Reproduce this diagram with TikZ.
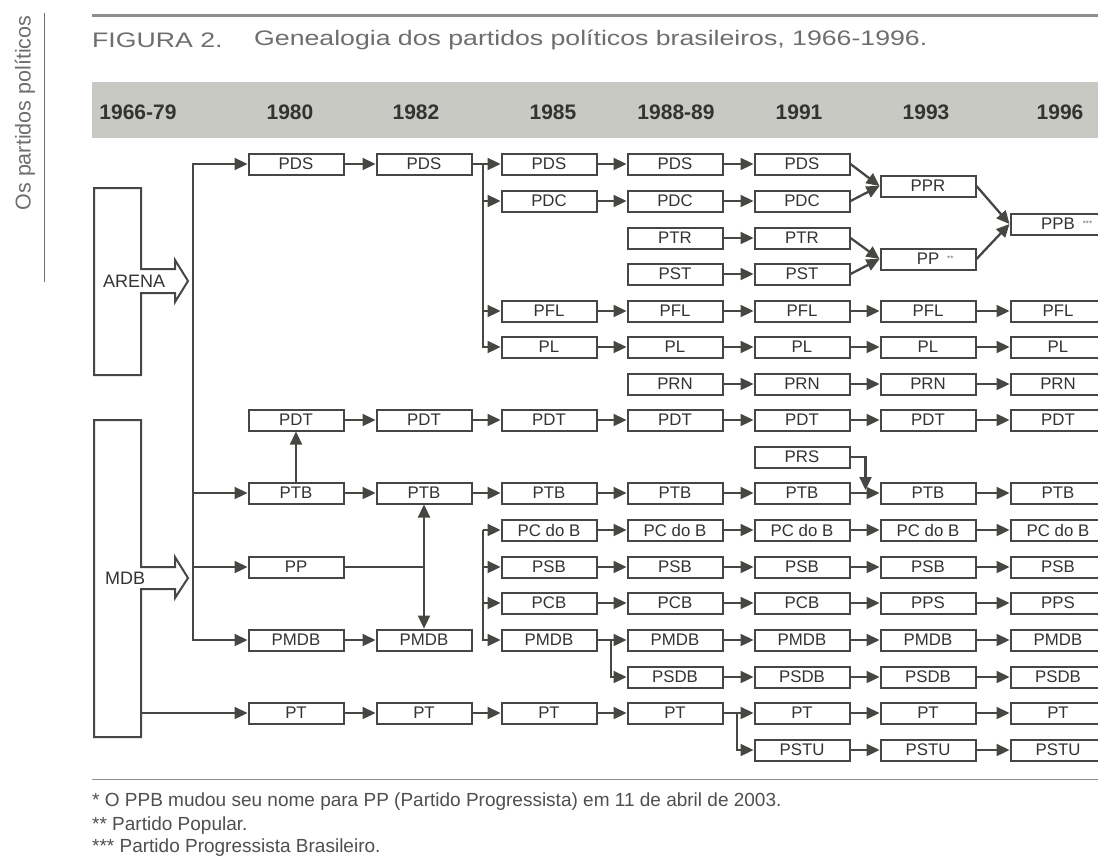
\documentclass[tikz,border=0pt]{standalone}
\usepackage{fontspec}
\setmainfont{Liberation Sans}
\newfontfamily\widefont[FakeStretch=1.27]{Liberation Sans}
\usetikzlibrary{arrows.meta,calc}
\definecolor{linegray}{HTML}{464643}
\definecolor{textgray}{HTML}{333333}
\definecolor{bandgray}{HTML}{C9C9C4}
\definecolor{titlegray}{HTML}{6E6E6E}
\definecolor{rulegray}{HTML}{8E8E8C}
\definecolor{notegray}{HTML}{4F4F4F}
\begin{document}
\begin{tikzpicture}[
    x=1pt, y=-1pt,
    party/.style={
        draw=linegray,
        line width=2pt,
        fill=white,
        minimum width=95pt,
        minimum height=21pt,
        inner sep=0pt,
        text=textgray,
        font=\fontsize{16.8}{18}\selectfont},
    arr/.style={draw=linegray, line width=2.3pt, -{Triangle[length=13pt,width=12pt]}},
    twoway/.style={draw=linegray, line width=2.3pt, {Triangle[length=13pt,width=12pt]}-{Triangle[length=13pt,width=12pt]}},
    link/.style={draw=linegray, line width=2.3pt},
    origin/.style={anchor=west, inner sep=0pt, text=textgray, font=\fontsize{18}{20}\selectfont},
    year/.style={text=textgray, inner sep=0pt, font=\fontsize{21}{24}\selectfont\bfseries},
    note/.style={anchor=west, inner sep=0pt, text=notegray, font=\fontsize{19}{22}\selectfont}]
    \clip (0,0) rectangle (1098,857);
    \fill[white] (0,0) rectangle (1098,857);

    \node[rotate=90, inner sep=0pt, text=titlegray, font=\fontsize{21.5}{24}\selectfont] (side) at (25,113) {Os partidos políticos};
    \draw[titlegray, line width=0.8pt] (44,13) -- (44,282);

    \draw[rulegray, line width=3pt] (92,15) -- (1098,15);
    \node[anchor=west, inner sep=0pt, text=titlegray, font=\widefont\fontsize{21}{24}\selectfont] (fig) at (92,40) {FIGURA 2.};
    \node[anchor=west, inner sep=0pt, text=titlegray, font=\widefont\fontsize{21}{24}\selectfont] (title) at (254,40) {Genealogia dos partidos políticos brasileiros, 1966-1996.};

    \fill[bandgray] (92,82) rectangle (1098,138);
    \node[year] (y66) at (138,112) {1966-79};
    \node[year] (y80) at (290,112) {1980};
    \node[year] (y82) at (416,112) {1982};
    \node[year] (y85) at (553,112) {1985};
    \node[year] (y88) at (676,112) {1988-89};
    \node[year] (y91) at (799,112) {1991};
    \node[year] (y93) at (926,112) {1993};
    \node[year] (y96) at (1060,112) {1996};

    \draw[linegray, line width=2pt] (94,188) -- (141,188) -- (141,269) -- (175,269) -- (175,260) -- (188,281) -- (175,302) -- (175,293) -- (141,293) -- (141,375) -- (94,375) -- cycle;
    \node[origin] (arena) at (103,281) {ARENA};
    \draw[linegray, line width=2pt] (94,420) -- (141,420) -- (141,567) -- (175,567) -- (175,557) -- (188,578) -- (175,598) -- (175,589) -- (141,589) -- (141,737) -- (94,737) -- cycle;
    \node[origin] (mdb) at (105,578) {MDB};

    \coordinate (trunk) at (193,0);
    \coordinate (mdbside) at (141,0);
    \coordinate (fork85) at (483,0);
    \coordinate (fork88) at (611,0);
    \coordinate (fork91) at (737,0);

    \node[party] (pds80) at (296,164) {PDS};
    \node[party] (pdt80) at (296,420) {PDT};
    \node[party] (ptb80) at (296,493) {PTB};
    \node[party] (pp80) at (296,567) {PP};
    \node[party] (pmdb80) at (296,640) {PMDB};
    \node[party] (pt80) at (296,713) {PT};

    \node[party] (pds82) at (424,164) {PDS};
    \node[party] (pdt82) at (424,420) {PDT};
    \node[party] (ptb82) at (424,493) {PTB};
    \node[party] (pmdb82) at (424,640) {PMDB};
    \node[party] (pt82) at (424,713) {PT};

    \node[party] (pds85) at (549,164) {PDS};
    \node[party] (pdc85) at (549,201) {PDC};
    \node[party] (pfl85) at (549,311) {PFL};
    \node[party] (pl85) at (549,347) {PL};
    \node[party] (pdt85) at (549,420) {PDT};
    \node[party] (ptb85) at (549,493) {PTB};
    \node[party] (pcdob85) at (549,530) {PC do B};
    \node[party] (psb85) at (549,567) {PSB};
    \node[party] (pcb85) at (549,603) {PCB};
    \node[party] (pmdb85) at (549,640) {PMDB};
    \node[party] (pt85) at (549,713) {PT};

    \node[party] (pds88) at (675,164) {PDS};
    \node[party] (pdc88) at (675,201) {PDC};
    \node[party] (ptr88) at (675,238) {PTR};
    \node[party] (pst88) at (675,274) {PST};
    \node[party] (pfl88) at (675,311) {PFL};
    \node[party] (pl88) at (675,347) {PL};
    \node[party] (prn88) at (675,384) {PRN};
    \node[party] (pdt88) at (675,420) {PDT};
    \node[party] (ptb88) at (675,493) {PTB};
    \node[party] (pcdob88) at (675,530) {PC do B};
    \node[party] (psb88) at (675,567) {PSB};
    \node[party] (pcb88) at (675,603) {PCB};
    \node[party] (pmdb88) at (675,640) {PMDB};
    \node[party] (psdb88) at (675,677) {PSDB};
    \node[party] (pt88) at (675,713) {PT};

    \node[party] (pds91) at (802,164) {PDS};
    \node[party] (pdc91) at (802,201) {PDC};
    \node[party] (ptr91) at (802,238) {PTR};
    \node[party] (pst91) at (802,274) {PST};
    \node[party] (pfl91) at (802,311) {PFL};
    \node[party] (pl91) at (802,347) {PL};
    \node[party] (prn91) at (802,384) {PRN};
    \node[party] (pdt91) at (802,420) {PDT};
    \node[party] (prs91) at (802,457) {PRS};
    \node[party] (ptb91) at (802,493) {PTB};
    \node[party] (pcdob91) at (802,530) {PC do B};
    \node[party] (psb91) at (802,567) {PSB};
    \node[party] (pcb91) at (802,603) {PCB};
    \node[party] (pmdb91) at (802,640) {PMDB};
    \node[party] (psdb91) at (802,677) {PSDB};
    \node[party] (pt91) at (802,713) {PT};
    \node[party] (pstu91) at (802,750) {PSTU};

    \node[party] (ppr93) at (928,186) {PPR};
    \node[party] (pp93) at (928,259) {PP\rlap{\hspace{8pt}\raisebox{3pt}{\fontsize{8}{8}\selectfont\color{titlegray}**}}};
    \node[party] (pfl93) at (928,311) {PFL};
    \node[party] (pl93) at (928,347) {PL};
    \node[party] (prn93) at (928,384) {PRN};
    \node[party] (pdt93) at (928,420) {PDT};
    \node[party] (ptb93) at (928,493) {PTB};
    \node[party] (pcdob93) at (928,530) {PC do B};
    \node[party] (psb93) at (928,567) {PSB};
    \node[party] (pps93) at (928,603) {PPS};
    \node[party] (pmdb93) at (928,640) {PMDB};
    \node[party] (psdb93) at (928,677) {PSDB};
    \node[party] (pt93) at (928,713) {PT};
    \node[party] (pstu93) at (928,750) {PSTU};

    \node[party] (ppb96) at (1058,224) {PPB\rlap{\hspace{8pt}\raisebox{3pt}{\fontsize{8}{8}\selectfont\color{titlegray}***}}};
    \node[party] (pfl96) at (1058,311) {PFL};
    \node[party] (pl96) at (1058,347) {PL};
    \node[party] (prn96) at (1058,384) {PRN};
    \node[party] (pdt96) at (1058,420) {PDT};
    \node[party] (ptb96) at (1058,493) {PTB};
    \node[party] (pcdob96) at (1058,530) {PC do B};
    \node[party] (psb96) at (1058,567) {PSB};
    \node[party] (pps96) at (1058,603) {PPS};
    \node[party] (pmdb96) at (1058,640) {PMDB};
    \node[party] (psdb96) at (1058,677) {PSDB};
    \node[party] (pt96) at (1058,713) {PT};
    \node[party] (pstu96) at (1058,750) {PSTU};

    \draw[arr] (trunk |- pmdb80) |- (pds80);
    \draw[arr] (trunk |- pds80) |- (pmdb80);
    \draw[arr] (trunk |- ptb80) -- (ptb80);
    \draw[arr] (trunk |- pp80) -- (pp80);
    \draw[arr] (mdbside |- pt80) -- (pt80);
    \draw[arr] (ptb80) -- (pdt80);

    \draw[arr] (pds80) -- (pds82);
    \draw[arr] (pdt80) -- (pdt82);
    \draw[arr] (ptb80) -- (ptb82);
    \draw[arr] (pmdb80) -- (pmdb82);
    \draw[arr] (pt80) -- (pt82);
    \draw[link] (pp80) -- (ptb82 |- pp80);
    \draw[twoway] (ptb82) -- (pmdb82);

    \draw[arr] (pds82) -- (pds85);
    \draw[arr] (fork85 |- pds85) |- (pl85);
    \draw[arr] (fork85 |- pdc85) -- (pdc85);
    \draw[arr] (fork85 |- pfl85) -- (pfl85);
    \draw[arr] (pdt82) -- (pdt85);
    \draw[arr] (ptb82) -- (ptb85);
    \draw[arr] (fork85 |- pcdob85) -- (pcdob85);
    \draw[arr] (fork85 |- pcdob85) |- (pmdb85);
    \draw[arr] (fork85 |- psb85) -- (psb85);
    \draw[arr] (fork85 |- pcb85) -- (pcb85);
    \draw[arr] (pt82) -- (pt85);

    \draw[arr] (pds85) -- (pds88);
    \draw[arr] (pdc85) -- (pdc88);
    \draw[arr] (pfl85) -- (pfl88);
    \draw[arr] (pl85) -- (pl88);
    \draw[arr] (pdt85) -- (pdt88);
    \draw[arr] (ptb85) -- (ptb88);
    \draw[arr] (pcdob85) -- (pcdob88);
    \draw[arr] (psb85) -- (psb88);
    \draw[arr] (pcb85) -- (pcb88);
    \draw[arr] (pmdb85) -- (pmdb88);
    \draw[arr] (fork88 |- pmdb88) |- (psdb88);
    \draw[arr] (pt85) -- (pt88);

    \draw[arr] (pds88) -- (pds91);
    \draw[arr] (pdc88) -- (pdc91);
    \draw[arr] (ptr88) -- (ptr91);
    \draw[arr] (pst88) -- (pst91);
    \draw[arr] (pfl88) -- (pfl91);
    \draw[arr] (pl88) -- (pl91);
    \draw[arr] (prn88) -- (prn91);
    \draw[arr] (pdt88) -- (pdt91);
    \draw[arr] (ptb88) -- (ptb91);
    \draw[arr] (pcdob88) -- (pcdob91);
    \draw[arr] (psb88) -- (psb91);
    \draw[arr] (pcb88) -- (pcb91);
    \draw[arr] (pmdb88) -- (pmdb91);
    \draw[arr] (psdb88) -- (psdb91);
    \draw[arr] (pt88) -- (pt91);
    \draw[arr] (fork91 |- pt88) |- (pstu91);

    \draw[arr] (pds91.east) -- (ppr93.west);
    \draw[arr] (pdc91.east) -- (ppr93.west);
    \draw[arr] (ptr91.east) -- (pp93.west);
    \draw[arr] (pst91.east) -- (pp93.west);
    \draw[arr] (pfl91) -- (pfl93);
    \draw[arr] (pl91) -- (pl93);
    \draw[arr] (prn91) -- (prn93);
    \draw[arr] (pdt91) -- (pdt93);
    \draw[arr] (ptb91) -- (ptb93);
    \draw[arr] (prs91.east) -| ($(ptb93.west)+(-14,-3)$);
    \draw[arr] (pcdob91) -- (pcdob93);
    \draw[arr] (psb91) -- (psb93);
    \draw[arr] (pcb91) -- (pps93);
    \draw[arr] (pmdb91) -- (pmdb93);
    \draw[arr] (psdb91) -- (psdb93);
    \draw[arr] (pt91) -- (pt93);
    \draw[arr] (pstu91) -- (pstu93);

    \draw[arr] (ppr93.east) -- (ppb96.west);
    \draw[arr] (pp93.east) -- (ppb96.west);
    \draw[arr] (pfl93) -- (pfl96);
    \draw[arr] (pl93) -- (pl96);
    \draw[arr] (prn93) -- (prn96);
    \draw[arr] (pdt93) -- (pdt96);
    \draw[arr] (ptb93) -- (ptb96);
    \draw[arr] (pcdob93) -- (pcdob96);
    \draw[arr] (psb93) -- (psb96);
    \draw[arr] (pps93) -- (pps96);
    \draw[arr] (pmdb93) -- (pmdb96);
    \draw[arr] (psdb93) -- (psdb96);
    \draw[arr] (pt93) -- (pt96);
    \draw[arr] (pstu93) -- (pstu96);

    \draw[rulegray, line width=1pt] (92,779) -- (1098,779);
    \node[note] (note1) at (92,802) {* O PPB mudou seu nome para PP (Partido Progressista) em 11 de abril de 2003.};
    \node[note] (note2) at (92,826) {** Partido Popular.};
    \node[note] (note3) at (92,848) {*** Partido Progressista Brasileiro.};
\end{tikzpicture}
\end{document}
